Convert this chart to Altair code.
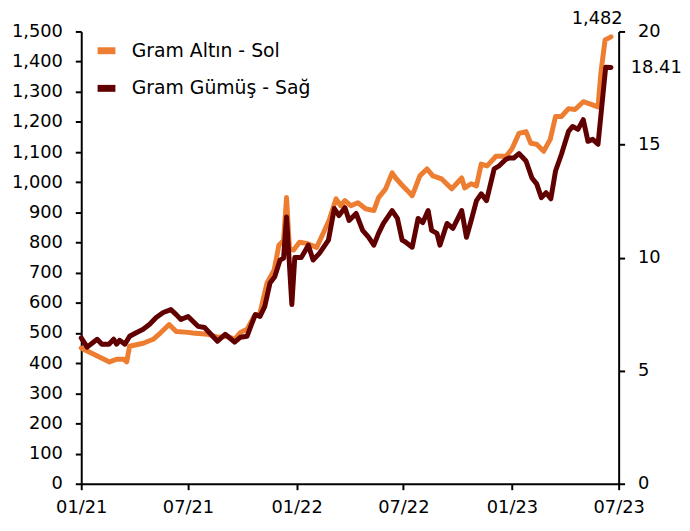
import altair as alt
import pandas as pd

GOLD = "Gram Altın - Sol"
SILVER = "Gram Gümüş - Sağ"

gold_dates = [
    "2021-01-01", "2021-01-11", "2021-02-18", "2021-03-02", "2021-03-14", "2021-03-19",
    "2021-03-24", "2021-04-16", "2021-05-03", "2021-05-13", "2021-05-30", "2021-06-11",
    "2021-07-01", "2021-07-09", "2021-08-03", "2021-08-20", "2021-09-06", "2021-09-18",
    "2021-09-28", "2021-10-09", "2021-10-21", "2021-10-31", "2021-11-12", "2021-11-24",
    "2021-12-02", "2021-12-10", "2021-12-15", "2021-12-20", "2021-12-27", "2022-01-06",
    "2022-01-18", "2022-02-04", "2022-02-15", "2022-02-25", "2022-03-09", "2022-03-17",
    "2022-03-24", "2022-04-03", "2022-04-15", "2022-04-28", "2022-05-12", "2022-05-20",
    "2022-06-01", "2022-06-12", "2022-06-18", "2022-06-29", "2022-07-08", "2022-07-16",
    "2022-07-29", "2022-08-10", "2022-08-20", "2022-09-04", "2022-09-21", "2022-09-29",
    "2022-10-08", "2022-10-13", "2022-10-24", "2022-11-02", "2022-11-10", "2022-11-20",
    "2022-12-05", "2022-12-22", "2023-01-01", "2023-01-13", "2023-01-25", "2023-02-02",
    "2023-02-12", "2023-02-24", "2023-03-07", "2023-03-16", "2023-03-26", "2023-04-07",
    "2023-04-18", "2023-05-02", "2023-05-13", "2023-05-27", "2023-06-01", "2023-06-08",
    "2023-06-18",
]
gold_values = [
    450, 440, 404, 413, 413, 404,
    456, 466, 479, 496, 528, 505,
    502, 500, 496, 486, 489, 479,
    502, 512, 555, 567, 666, 709,
    791, 807, 949, 780, 775, 801,
    797, 784, 830, 873, 945, 922,
    939, 922, 932, 912, 906, 949,
    978, 1031, 1014, 990, 972, 955,
    1021, 1044, 1021, 1011, 978, 995,
    1014, 981, 995, 988, 1060, 1054,
    1086, 1086, 1110, 1162, 1168, 1129,
    1126, 1103, 1142, 1218, 1218, 1244,
    1241, 1267, 1260, 1250, 1365, 1472,
    1482,
]

silver_dates = [
    "2021-01-01", "2021-01-11", "2021-01-28", "2021-02-05", "2021-02-17", "2021-02-25",
    "2021-03-02", "2021-03-07", "2021-03-16", "2021-03-24", "2021-04-05", "2021-04-16",
    "2021-04-27", "2021-05-08", "2021-05-20", "2021-06-02", "2021-06-11", "2021-06-19",
    "2021-07-01", "2021-07-18", "2021-07-29", "2021-08-20", "2021-09-02", "2021-09-18",
    "2021-09-28", "2021-10-09", "2021-10-23", "2021-10-31", "2021-11-08", "2021-11-17",
    "2021-11-25", "2021-12-04", "2021-12-10", "2021-12-15", "2021-12-24", "2021-12-29",
    "2022-01-09", "2022-01-21", "2022-01-29", "2022-02-09", "2022-02-24", "2022-03-06",
    "2022-03-14", "2022-03-24", "2022-03-31", "2022-04-12", "2022-04-23", "2022-05-03",
    "2022-05-12", "2022-05-20", "2022-05-28", "2022-06-12", "2022-06-21", "2022-06-29",
    "2022-07-04", "2022-07-16", "2022-07-26", "2022-08-03", "2022-08-12", "2022-08-18",
    "2022-08-27", "2022-09-01", "2022-09-13", "2022-09-23", "2022-10-08", "2022-10-16",
    "2022-10-24", "2022-11-02", "2022-11-10", "2022-11-19", "2022-12-02", "2022-12-10",
    "2022-12-22", "2022-12-27", "2023-01-04", "2023-01-13", "2023-01-25", "2023-02-04",
    "2023-02-12", "2023-02-20", "2023-02-28", "2023-03-08", "2023-03-16", "2023-03-26",
    "2023-04-07", "2023-04-14", "2023-04-23", "2023-05-02", "2023-05-10", "2023-05-18",
    "2023-05-27", "2023-06-01", "2023-06-09", "2023-06-18",
]
silver_values = [
    6.45, 6.04, 6.39, 6.17, 6.17, 6.39,
    6.17, 6.34, 6.17, 6.52, 6.69, 6.83,
    7.05, 7.35, 7.57, 7.70, 7.48, 7.26,
    7.40, 6.96, 6.91, 6.30, 6.61, 6.26,
    6.48, 6.52, 7.48, 7.40, 7.83, 8.88,
    9.15, 9.89, 9.98, 11.80, 7.92, 10.00,
    10.00, 10.55, 9.89, 10.20, 10.77, 12.17,
    11.86, 12.21, 11.64, 11.95, 11.20, 10.90,
    10.55, 11.07, 11.50, 12.08, 11.73, 10.77,
    10.70, 10.46, 11.73, 11.55, 12.08, 11.20,
    11.07, 10.55, 11.51, 11.29, 12.08, 10.90,
    11.64, 12.52, 12.82, 12.52, 13.92, 14.05,
    14.35, 14.40, 14.40, 14.60, 14.27, 13.52,
    13.26, 12.65, 12.87, 12.60, 13.83, 14.57,
    15.58, 15.80, 15.67, 16.10, 15.14, 15.23,
    15.01, 16.32, 18.42, 18.41,
]

x_ticks = ["2021-01-01", "2021-07-01", "2022-01-01", "2022-07-01", "2023-01-01", "2023-07-01"]
left_ticks = list(range(0, 1501, 100))
right_ticks = [0, 5, 10, 15, 20]

ORANGE = "#ED7D31"
DARK = "#600000"
FONT = "DejaVu Sans"

df_g = pd.DataFrame({"date": pd.to_datetime(gold_dates), "value": gold_values, "series": GOLD})
df_s = pd.DataFrame({"date": pd.to_datetime(silver_dates), "value": silver_values, "series": SILVER})
df_g_last = df_g.tail(1)
df_s_last = df_s.tail(1)


def dt(s):
    t = pd.Timestamp(s)
    return alt.DateTime(year=t.year, month=t.month, date=t.day)


x_enc = alt.X(
    "date:T",
    scale=alt.Scale(domain=[dt("2021-01-01"), dt("2023-07-01")]),
    axis=alt.Axis(
        values=[dt(s) for s in x_ticks],
        format="%m/%y",
        title=None,
        labelFlush=False,
        labelOverlap=False,
        labelPadding=9,
    ),
)

color_enc = alt.Color(
    "series:N",
    scale=alt.Scale(domain=[GOLD, SILVER], range=[ORANGE, DARK]),
    legend=alt.Legend(
        title=None,
        orient="none",
        legendX=13,
        legendY=7,
        symbolType="stroke",
        symbolSize=324,
        symbolStrokeWidth=7,
        labelFontSize=19,
        labelFont=FONT,
        labelColor="black",
        labelOffset=13,
        labelLimit=400,
        rowPadding=9,
        padding=0,
    ),
)

y_left = alt.Y(
    "value:Q",
    scale=alt.Scale(domain=[0, 1500], nice=False, zero=True),
    axis=alt.Axis(values=left_ticks, format=",.0f", title=None, orient="left", labelPadding=13),
)
y_right = alt.Y(
    "value:Q",
    scale=alt.Scale(domain=[0, 20], nice=False, zero=True),
    axis=alt.Axis(values=right_ticks, format=".0f", title=None, orient="right", labelPadding=13),
)

gold_line = alt.Chart(df_g).mark_line(strokeWidth=5, strokeJoin="round", strokeCap="round").encode(
    x=x_enc, y=y_left, color=color_enc
)
gold_text = alt.Chart(df_g_last).mark_text(
    dx=-14, dy=-18, fontSize=18, font=FONT, color="black"
).encode(x=x_enc, y=y_left, text=alt.Text("value:Q", format=",.0f"))

silver_line = alt.Chart(df_s).mark_line(strokeWidth=5, strokeJoin="round", strokeCap="round").encode(
    x=x_enc, y=y_right, color=color_enc
)
silver_text = alt.Chart(df_s_last).mark_text(
    dx=20, dy=1, align="left", fontSize=18, font=FONT, color="black"
).encode(x=x_enc, y=y_right, text=alt.Text("value:Q", format=".2f"))

left = alt.layer(gold_line, gold_text)
right = alt.layer(silver_line, silver_text)

chart = (
    alt.layer(left, right)
    .resolve_scale(y="independent")
    .properties(
        width=543,
        height=457,
        autosize=alt.AutoSizeParams(type="none"),
        padding={"left": 74, "top": 21, "right": 64, "bottom": 40},
        background="white",
    )
    .configure_view(stroke=None)
    .configure_axis(
        grid=False,
        labelFont=FONT,
        labelFontSize=18,
        labelColor="black",
        domainColor="black",
        domainWidth=2,
        tickColor="black",
        tickWidth=2,
        tickSize=6,
    )
)

chart.save("out.html", embed_options={"renderer": "svg", "actions": False})
